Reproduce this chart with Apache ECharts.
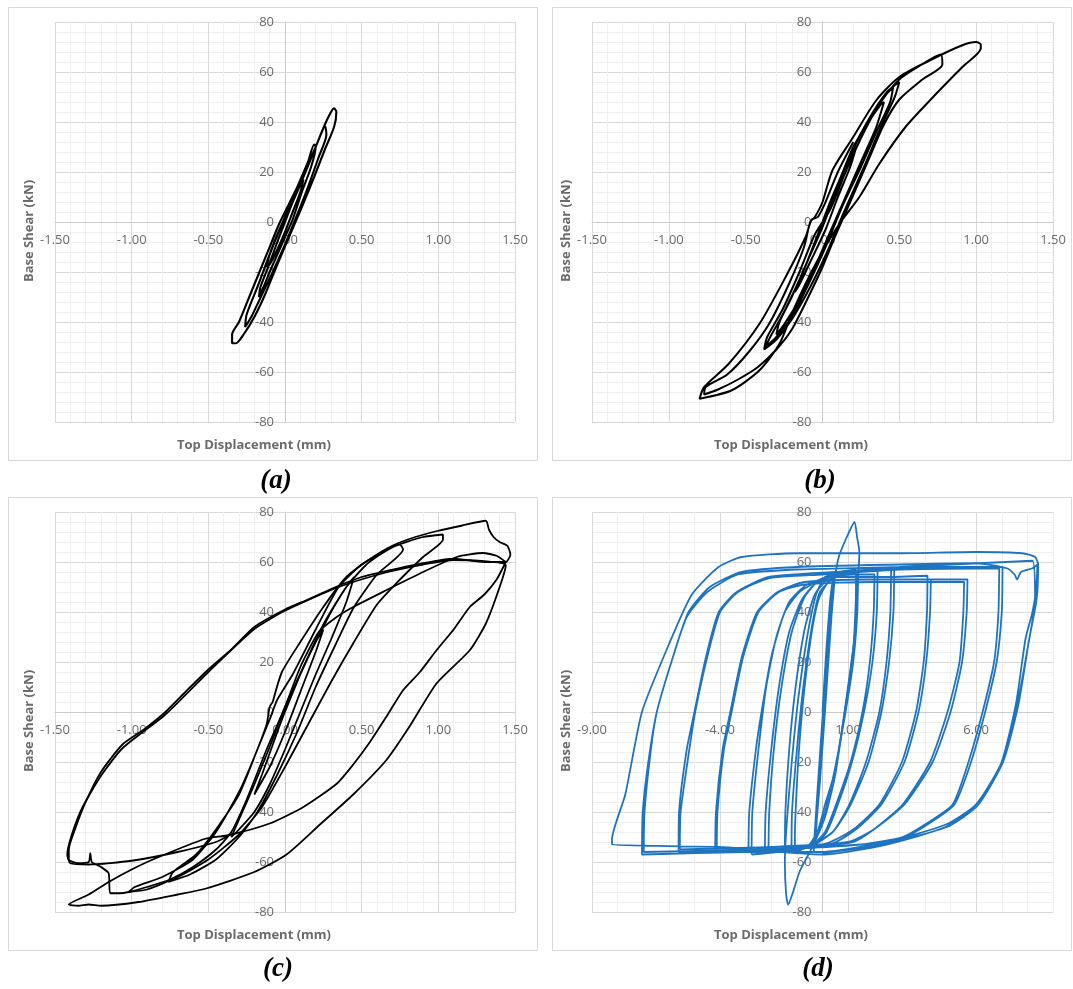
<!DOCTYPE html>
<html><head><meta charset="utf-8">
<script src="https://cdn.jsdelivr.net/npm/echarts@6/dist/echarts.min.js"></script>
<style>html,body{margin:0;padding:0;background:#fff}#c{width:1073px;height:989px}</style>
</head><body><div id="c"></div>
<script>
// ---- data (displacement mm, base shear kN) ----
const xTicksABC = [-1.5, -1, -0.5, 0, 0.5, 1, 1.5];
const xTicksD = [-9, -4, 1, 6];
const yTicks = [-80, -60, -40, -20, 0, 20, 40, 60, 80];
const panelLabels = ['(a)', '(b)', '(c)', '(d)'];
const xTitle = 'Top Displacement (mm)';
const yTitle = 'Base Shear (kN)';

const loopA = [[0,0],[0.05,8],[0.1,15],[0.12,17],[0.1,12],[0.05,4],[0,-4],[-0.05,-11],[-0.1,-17],[-0.12,-18],[-0.1,-13],[-0.05,-5],[0,2],
[0.05,9],[0.1,16],[0.15,24],[0.19,31],[0.2,30],[0.17,22],[0.11,12],[0.05,1],[0,-6],[-0.05,-13],[-0.1,-20],[-0.14,-26],[-0.17,-30],[-0.16,-26],[-0.11,-18],[-0.05,-8],[0,0],
[0.05,8],[0.1,15],[0.15,23],[0.2,30],[0.24,36],[0.26,38.5],[0.27,35],[0.22,26],[0.15,14],[0.08,3],[0,-9],[-0.08,-20],[-0.15,-29],[-0.22,-38],[-0.26,-42],[-0.25,-37],[-0.18,-26],[-0.1,-13],[-0.02,-1],
[0.05,8],[0.12,18],[0.2,30],[0.26,39],[0.3,44],[0.32,45.5],[0.335,44],[0.32,38],[0.26,29],[0.19,18],[0.11,6],[0.04,-4],[-0.05,-17],[-0.13,-29],[-0.2,-38],[-0.27,-45],[-0.32,-48.5],[-0.345,-48.5],[-0.345,-45],[-0.3,-40],[-0.22,-28],[-0.12,-13],[-0.04,-1],[0,4],[0.08,14],[0.15,24]];

const loopB = [[0,0],[0.05,8],[0.12,18],[0.2,28],[0.22,30],[0.18,22],[0.1,10],[0.02,-3],[-0.08,-16],[-0.15,-25],[-0.18,-28],[-0.12,-19],[-0.05,-8],[0.02,3],
[0.1,15],[0.2,30],[0.3,40],[0.38,47],[0.4,48],[0.35,38],[0.25,24],[0.15,10],[0.05,-4],[-0.05,-18],[-0.15,-31],[-0.25,-41],[-0.3,-45],[-0.28,-40],[-0.2,-30],[-0.1,-16],[0,-2],
[0.1,14],[0.2,29],[0.3,41],[0.4,50],[0.46,54],[0.44,48],[0.35,36],[0.25,22],[0.12,5],[0.02,-10],[-0.1,-26],[-0.2,-38],[-0.3,-46],[-0.37,-50],[-0.34,-46],[-0.25,-36],[-0.12,-19],[-0.02,-4],
[0.08,12],[0.18,27],[0.3,41],[0.42,52],[0.5,56],[0.47,50],[0.38,38],[0.27,22],[0.14,4],[0.03,-12],[-0.08,-26],[-0.2,-39],[-0.3,-47],[-0.38,-51],[-0.36,-46],[-0.26,-35],[-0.15,-20],[-0.05,-5],
[0.05,5],[0.15,20],[0.27,36],[0.38,48],[0.5,57],[0.62,62],[0.77,67],[0.78,63],[0.65,57],[0.5,49],[0.4,39],[0.3,25],[0.18,8],[0.08,-6],[0,-18],[-0.1,-31],[-0.2,-43],[-0.3,-51],[-0.42,-58],[-0.55,-63],[-0.68,-67],[-0.77,-69],[-0.76,-66],[-0.62,-61],[-0.48,-52],[-0.35,-41],[-0.22,-25],[-0.12,-10],[-0.08,0],[-0.05,2],
[0,8],[0.065,20.7],[0.2,34],[0.35,48.7],[0.5,58],[0.72,65.3],[0.91,70.7],[1.0,72],[1.03,71],[1.03,69.5],[0.91,62],[0.72,50],[0.54,38],[0.37,23.3],[0.24,10],[0.11,-0.7],[-0.02,-14],[-0.11,-24.7],[-0.2,-36.7],[-0.28,-48.7],[-0.41,-59.3],[-0.59,-67.3],[-0.8,-70.7],[-0.77,-66],[-0.61,-56.7],[-0.41,-40.7],[-0.24,-22],[-0.11,-6],[-0.07,1],[-0.03,2],[0.02,8],[0.1,20],[0.2,32]];

const loopC1 = [[0,0],[0.1,15],[0.2,28],[0.25,33],[0.2,24],[0.1,8],[0,-8],[-0.1,-22],[-0.2,-33],[-0.15,-25],[-0.05,-8],[0.05,8],
[0.15,22],[0.3,40],[0.4,50],[0.45,54],[0.4,44],[0.3,29],[0.2,15],[0.1,0],[0,-15],[-0.1,-29],[-0.2,-40],[-0.3,-47],[-0.35,-50],[-0.3,-43],[-0.2,-29],[-0.1,-14],[0,2],
[0.12,18],[0.25,35],[0.4,50],[0.55,60],[0.75,67],[0.77,65],[0.6,55],[0.45,42],[0.33,27],[0.2,10],[0.08,-8],[-0.05,-25],[-0.18,-40],[-0.3,-50],[-0.45,-59],[-0.62,-65],[-0.76,-68],[-0.73,-64],[-0.58,-57],[-0.45,-47],[-0.3,-33],[-0.18,-15],[-0.1,-3],[-0.05,5],
[0.05,15],[0.2,33],[0.35,50],[0.5,59],[0.7,66],[0.9,70],[1.03,71],[1.03,69],[0.9,62],[0.75,53],[0.6,43],[0.45,28],[0.3,12],[0.15,-5],[0,-22],[-0.15,-38],[-0.3,-49],[-0.5,-59],[-0.7,-66],[-0.9,-71],[-1.02,-72],[-0.98,-70],[-0.8,-66],[-0.6,-59],[-0.45,-48],[-0.3,-32],[-0.2,-18],[-0.12,-5],[-0.1,2],[-0.08,4]];
const loopC2 = [[-0.08,4],[-0.02,16],[0.1,28],[0.25,42],[0.4,54],[0.55,61],[0.7,66.5],[0.85,70],[1.0,72.5],[1.15,74.5],[1.31,76.5],[1.33,73],[1.36,70],[1.4,68],[1.45,66.5],[1.47,63],[1.44,60],
[1.3,60],[1.1,61.3],[0.9,59.5],[0.67,56.5],[0.5,54],[0.35,50.5],[0.15,45],[0,41],[-0.2,34],[-0.35,25],[-0.5,17],[-0.65,8],[-0.78,0],[-0.92,-7],[-1.06,-13],[-1.2,-24],[-1.3,-36],[-1.37,-47],[-1.41,-55],[-1.41,-59],
[-1.35,-60.5],[-1.28,-60],[-1.27,-56.5],[-1.26,-60],[-1.2,-62],[-1.15,-64.5],[-1.14,-72.5],[-1.08,-72.5],[-1.02,-72],
[-0.9,-70],[-0.75,-67],[-0.6,-62],[-0.45,-55],[-0.35,-48],[-0.25,-35],[-0.12,-15],[0,2],[0.1,18],[0.22,32],[0.337,38],
[0.445,42],[0.66,48.7],[0.88,55.4],[1.12,62],[1.29,63.6],[1.38,62.5],[1.44,60]];
const loopC3 = [[1.44,60],[1.38,53],[1.3,47],[1.205,42],[1.1,33],[0.988,24.7],[0.88,16],[0.77,8.7],[0.66,-2],[0.554,-12],[0.445,-21],[0.337,-28.7],[0.12,-38],[-0.1,-44.6],[-0.37,-49.3],
[-0.52,-50.7],[-0.85,-58.7],[-1.0,-63],[-1.15,-68],[-1.28,-73],[-1.41,-77],
[-1.35,-77.5],[-1.28,-77],[-1.2,-77.5],[-0.955,-76],[-0.7,-73],[-0.52,-70.7],[-0.2,-64],[0.01,-57],[0.228,-45],[0.445,-33],[0.66,-19.3],[0.81,-6],[0.988,11.4],[1.205,24.7],[1.31,35.4],[1.4,50],[1.44,58.7],
[1.3,60.3],[1.1,60.8],[0.9,59],[0.67,56],[0.35,50],[0,40.5],[-0.2,33.2],[-0.5,16],[-0.78,-1],[-1.06,-14.5],[-1.2,-25.5],[-1.32,-38],[-1.39,-49],[-1.42,-57],[-1.4,-60.5],
[-1.28,-61],[-1.0,-59.5],[-0.7,-56],[-0.45,-52],[-0.37,-49.5]];

const loopD1 = [[0,0],[0.15,25],[0.3,45],[0.4,53],[0.3,40],[0.1,10],[-0.1,-20],[-0.25,-45],[-0.3,-53],[-0.2,-38],[0,-5],[0.2,28],[0.4,50],[0.5,56],[0.35,38],[0.15,8],[-0.1,-28],[-0.3,-52],[-0.35,-56],[-0.2,-32],[0.05,5],[0.3,42],
[0.45,54],[0.3,36],[0.1,6],[-0.12,-26],[-0.25,-48],[-0.15,-30],[0.1,8],[0.35,45],[0.55,58],
[0.66,62.8],[0.95,70],[1.25,76],[1.35,70],[1.44,64],[1.4,55],[1.25,30],[0.9,3],[0.5,-25],[0.1,-42],[-0.3,-52],[-0.6,-58],[-0.9,-64],[-1.15,-72],[-1.34,-77],[-1.42,-73],[-1.47,-60],[-1.4,-45],[-1.2,-20],[-0.95,5],[-0.6,30],[-0.25,47],[0.1,54],[0.7,56],[1.31,57]];
const loopD2 = [[1.31,57],[1.3,45],[1.2,25],[0.87,0],[0.45,-25],[0.1,-37],[-0.2,-48],[-0.6,-54],[-1.08,-55],
[-1.07,-45],[-0.95,-20],[-0.75,5],[-0.45,30],[-0.15,45],[0.3,53],[1.0,55],[1.38,55.5],
[1.36,40],[1.2,20],[0.9,0],[0.5,-22],[0.1,-40],[-0.3,-51],[-0.8,-55],[-1.21,-56],
[-1.19,-40],[-1.0,-15],[-0.75,10],[-0.4,35],[-0.1,48],[0.5,54],[1.2,55],[2.03,55],
[2.0,40],[1.85,20],[1.56,0],[1.1,-20],[0.53,-37],[0.1,-48],[-0.5,-54],[-1.0,-55],[-1.47,-56],
[-1.45,-40],[-1.3,-15],[-1.05,10],[-0.7,33],[-0.3,47],[0.3,54],[1.2,56],[2.15,56.5],
[2.12,40],[1.95,20],[1.62,0],[1.15,-20],[0.6,-37],[0.1,-49],[-0.8,-55],[-1.6,-56],[-2.11,-56],
[-2.08,-40],[-1.9,-15],[-1.6,10],[-1.2,32],[-0.7,46],[-0.1,53],[1.0,56],[2.68,57],
[2.65,40],[2.5,20],[2.22,0],[1.7,-20],[1.05,-37],[0.4,-48],[-0.5,-54],[-1.5,-55],[-2.25,-56],
[-2.22,-40],[-2.0,-15],[-1.7,10],[-1.3,32],[-0.8,45],[-0.2,52],[1.0,56],[2.8,57.3],
[2.77,40],[2.6,20],[2.3,0],[1.8,-20],[1.1,-37],[0.4,-48],[-0.6,-54],[-1.8,-56],[-2.77,-57]];
const loopD3 = [[-2.77,-57],[-2.74,-40],[-2.5,-15],[-2.2,10],[-1.8,30],[-1.3,44],[-0.6,51],[0.5,54],[2.5,54],[4.1,54.5],
[4.08,40],[3.95,20],[3.65,0],[3.1,-20],[2.22,-37],[1.2,-47],[0.3,-52],[-1.0,-55],[-2.89,-56],
[-2.86,-40],[-2.6,-15],[-2.38,0],[-2.0,22],[-1.47,40],[-0.9,48],[-0.17,52],[1.5,53],[4.23,53],
[4.2,40],[4.05,20],[3.75,0],[3.2,-20],[2.3,-37],[1.3,-47],[0.3,-53],[-2.0,-55],[-4.13,-56],
[-4.1,-40],[-3.85,-15],[-3.55,0],[-3.1,22],[-2.5,40],[-1.7,48],[-0.69,51],[2.0,52],[5.53,52],
[5.5,40],[5.35,20],[4.88,0],[4.2,-20],[3.13,-37],[2.0,-47],[1.18,-52],[-1.5,-55],[-4.19,-56],
[-4.16,-40],[-3.9,-15],[-3.6,0],[-3.15,22],[-2.55,40],[-1.75,48],[-0.7,52],[2.0,53],[5.66,53],
[5.63,40],[5.45,20],[5.0,0],[4.3,-20],[3.2,-37],[2.0,-47],[1.0,-52],[-2.0,-54],[-5.57,-55]];
const loopD4 = [[-5.57,-55],[-5.54,-40],[-5.2,-15],[-4.97,0],[-4.5,22],[-4.0,40],[-3.3,48],[-2.1,53.5],[0,55],[3.0,57],[6.9,57.5],
[6.87,40],[6.7,20],[6.25,0],[5.7,-20],[5.08,-37],[4.0,-45],[3.13,-50],[1.5,-53],[-2.0,-55],[-5.62,-56],
[-5.6,-40],[-5.3,-15],[-5.0,0],[-4.55,22],[-4.05,40],[-3.35,48],[-2.1,54],[0.5,56],[4.0,58],[7.03,58],
[7.0,40],[6.8,20],[6.35,0],[5.8,-20],[5.15,-37],[4.1,-45],[3.2,-50],[1.5,-53],[-3.0,-55],[-6.98,-56],
[-6.95,-40],[-6.7,-15],[-6.47,0],[-5.9,20],[-5.23,40],[-4.4,50],[-3.16,56],[-1,58],[3,59],[6,59.5],[7.2,57.5],[7.5,55],[7.6,53],[7.75,56],[8.2,57.5],[8.39,59],
[8.35,50],[8.2,40],[7.93,29.5],[7.55,3],[6.96,-21],[5.99,-37],[4.82,-45],[2.48,-52],[-0.12,-56],[-3,-56],[-7.05,-57],
[-7.02,-40],[-6.8,-20],[-6.47,0],[-5.9,20],[-5.3,38],[-4.5,48],[-3.3,55],[-1,57],[3,58],[8.2,60.5],
[8.3,45],[8.0,25],[7.6,3],[7.0,-20],[6.0,-37],[4.8,-46],[2.5,-53],[0,-57],[-4,-54],[-8.22,-53],
[-8.22,-51],[-7.7,-33],[-7.05,0],[-6.0,27],[-5.1,47],[-4.06,58],[-3.16,62],[-1,63.5],[3,63.5],[6,64],[7.8,63.5],[8.3,62],[8.42,59],
[8.36,45],[8.05,28],[7.65,3],[7.05,-20],[6.05,-37.5],[4.85,-46],[2.5,-52.5],[0,-56.5]];

// ---- layout ----
const grids = [
  {left: 55, top: 22, width: 460, height: 400},
  {left: 592, top: 22, width: 461, height: 400},
  {left: 55, top: 512, width: 460, height: 400},
  {left: 592, top: 512, width: 461, height: 400}
];
const LABEL = '#6b6b6b', MAJOR = '#d9d9d9', MINOR = '#efefef', AXIS = '#cccccc', FONT = '"Open Sans", "Noto Sans", sans-serif';
const yMin = yTicks[0], yMax = yTicks[yTicks.length - 1];

function yAxisFor(i, xMin, xMax) {
  const g = grids[i];
  return {
    gridIndex: i, type: 'value', position: 'left', min: yMin, max: yMax, interval: yTicks[1] - yTicks[0],
    offset: -g.width * (0 - xMin) / (xMax - xMin),
    axisLine: {show: true, onZero: false, lineStyle: {color: AXIS, width: 1}},
    axisTick: {show: false},
    axisLabel: {color: LABEL, fontSize: 13, fontFamily: FONT, margin: 11, formatter: v => String(v)},
    splitLine: {show: true, lineStyle: {color: MAJOR, width: 1}},
    minorTick: {show: false, splitNumber: 5},
    minorSplitLine: {show: true, lineStyle: {color: MINOR, width: 1}}
  };
}
function xAxisABC(i) {
  const g = grids[i];
  return {
    gridIndex: i, type: 'value', position: 'bottom', min: xTicksABC[0], max: xTicksABC[xTicksABC.length - 1], interval: xTicksABC[1] - xTicksABC[0],
    offset: -g.height * (0 - yMin) / (yMax - yMin),
    axisLine: {show: true, onZero: false, lineStyle: {color: AXIS, width: 1}},
    axisTick: {show: false},
    axisLabel: {color: LABEL, fontSize: 13, fontFamily: FONT, margin: 12, formatter: v => (Math.abs(v) < 1e-9 ? 0 : v).toFixed(2)},
    splitLine: {show: true, lineStyle: {color: MAJOR, width: 1}},
    minorTick: {show: false, splitNumber: 5},
    minorSplitLine: {show: true, lineStyle: {color: MINOR, width: 1}}
  };
}
const xMinD = xTicksD[0], xMaxD = -xTicksD[0];
const xAxisD = {
  gridIndex: 3, type: 'value', position: 'bottom', min: xMinD, max: xMaxD, interval: 1,
  offset: -grids[3].height * (0 - yMin) / (yMax - yMin),
  axisLine: {show: true, onZero: false, lineStyle: {color: AXIS, width: 1}},
  axisTick: {show: false},
  axisLabel: {color: LABEL, fontSize: 13, fontFamily: FONT, margin: 12, showMaxLabel: false,
    formatter: v => (xTicksD.indexOf(Math.round(v)) >= 0 ? v.toFixed(2) : '')},
  splitLine: {show: true, lineStyle: {color: [MAJOR, MINOR, MINOR, MINOR, MINOR], width: 1}}
};

function ser(i, data, color, w, sm) {
  return {type: 'line', xAxisIndex: i, yAxisIndex: i, data: data, showSymbol: false, symbol: 'none',
    smooth: sm, silent: true, animation: false, lineStyle: {color: color, width: w}, z: 5};
}
const BLUE = '#1f74c2';

const graphic = [];
const boxes = [[8.5, 7.5, 529, 453], [552.5, 7.5, 519, 453], [8.5, 497.5, 529, 453], [552.5, 497.5, 519, 453]];
boxes.forEach(b => graphic.push({type: 'rect', shape: {x: b[0], y: b[1], width: b[2], height: b[3]},
  style: {fill: 'none', stroke: '#d9d9d9', lineWidth: 1}, silent: true}));
const xTitlePos = [[254, 445], [791, 445], [254, 935], [791, 935]];
const yTitlePos = [[29, 231], [566, 231], [29, 721], [566, 721]];
const panelPos = [[276, 481], [820, 481], [278, 969], [818, 969]];
for (let i = 0; i < 4; i++) {
  graphic.push({type: 'text', x: xTitlePos[i][0], y: xTitlePos[i][1], silent: true,
    style: {text: xTitle, font: 'bold 13px ' + FONT, fill: LABEL, align: 'center', verticalAlign: 'middle', textAlign: 'center', textVerticalAlign: 'middle'}});
  graphic.push({type: 'text', x: yTitlePos[i][0], y: yTitlePos[i][1], rotation: Math.PI / 2, silent: true,
    style: {text: yTitle, font: 'bold 13px ' + FONT, fill: LABEL, align: 'center', verticalAlign: 'middle', textAlign: 'center', textVerticalAlign: 'middle'}});
  graphic.push({type: 'text', x: panelPos[i][0], y: panelPos[i][1], silent: true,
    style: {text: panelLabels[i], font: 'italic bold 27px "Liberation Serif", "Times New Roman", serif', fill: '#000', align: 'center', verticalAlign: 'middle', textAlign: 'center', textVerticalAlign: 'middle'}});
}

const chart = echarts.init(document.getElementById('c'), null, {renderer: 'canvas'});
chart.setOption({
  backgroundColor: '#fff',
  animation: false,
  grid: grids.map(g => Object.assign({outerBoundsMode: 'none', containLabel: false, show: false}, g)),
  xAxis: [xAxisABC(0), xAxisABC(1), xAxisABC(2), xAxisD],
  yAxis: [yAxisFor(0, -1.5, 1.5), yAxisFor(1, -1.5, 1.5), yAxisFor(2, -1.5, 1.5), yAxisFor(3, xMinD, xMaxD)],
  series: [
    ser(0, loopA, '#000', 2.1, 0.25),
    ser(1, loopB, '#000', 2.0, 0.25),
    ser(2, loopC1, '#000', 1.8, 0.2), ser(2, loopC2, '#000', 1.8, 0.2), ser(2, loopC3, '#000', 1.8, 0.2),
    ser(3, loopD1, BLUE, 1.8, 0.2), ser(3, loopD2, BLUE, 1.8, 0.2), ser(3, loopD3, BLUE, 1.8, 0.2), ser(3, loopD4, BLUE, 1.8, 0.2)
  ],
  graphic: graphic
});
</script>
</body></html>
